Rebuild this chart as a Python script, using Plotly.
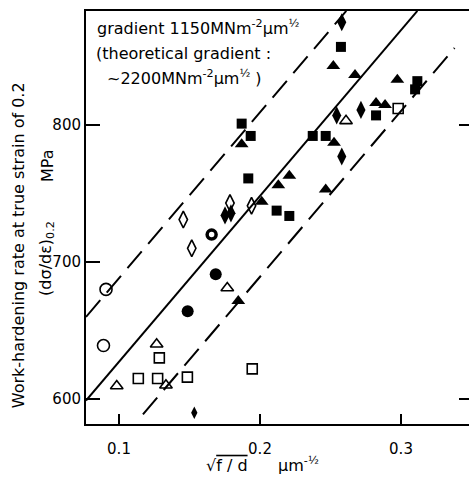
import plotly.graph_objects as go

# ---- data ----
open_circle_x = [0.0908, 0.0890]
open_circle_y = [680, 639]
ring_x = [0.1657]
ring_y = [720]
filled_circle_x = [0.1686, 0.1487]
filled_circle_y = [691, 664]
open_tri_x = [0.1768, 0.1267, 0.0984, 0.1333, 0.2610]
open_tri_y = [681, 640, 609.5, 610, 803]
open_sq_x = [0.1286, 0.1137, 0.1274, 0.1485, 0.1945, 0.2980]
open_sq_y = [630, 615, 615, 616, 622, 812]
open_dia_x = [0.1456, 0.1516, 0.1787, 0.1940]
open_dia_y = [731, 710, 743, 741]
filled_dia_x = [0.2580, 0.2544, 0.2716, 0.2580, 0.1752, 0.1794]
filled_dia_y = [875, 807, 811, 777, 734, 735.5]
small_dia_x = [0.1534]
small_dia_y = [590]
filled_sq_x = [0.2574, 0.1870, 0.1934, 0.1917, 0.2374, 0.2466, 0.2118, 0.2208, 0.2823, 0.3116, 0.3100]
filled_sq_y = [857, 801, 792, 761, 792, 792, 737.5, 733.6, 807, 832, 826]
filled_tri_x = [0.2520, 0.2674, 0.2974, 0.1870, 0.2525, 0.2130, 0.2208, 0.2466, 0.2012, 0.1846, 0.2823, 0.2887]
filled_tri_y = [843, 836.5, 833, 786, 787, 756, 763, 753, 744, 671.5, 816, 814.6]

# fitted band: slope, value at x=0.2, offsets and x-extents
gradient = 1210.0
value_at_02 = 748.2
band_offsets = [0.0, 61.0, -59.0]
band_x_start = [0.0766, 0.0766, 0.1170]
band_x_end = [0.3116, 0.2612, 0.3380]
band_dash = ["solid", "22px,10px", "22px,10px"]

x_ticks = [0.1, 0.2, 0.3]
x_tick_text = ["0.1", "0.2", "0.3"]
y_ticks = [600, 700, 800]
y_tick_text = ["600", "700", "800"]
x_range = [0.0766, 0.34823]
y_range = [581.75, 883.2]

FONT = "DejaVu Sans"
fig = go.Figure()

for off, xs, xe, dash in zip(band_offsets, band_x_start, band_x_end, band_dash):
    ys = value_at_02 + off + gradient * (xs - 0.2)
    ye = value_at_02 + off + gradient * (xe - 0.2)
    fig.add_trace(go.Scatter(x=[xs, xe], y=[ys, ye], mode="lines",
                             line=dict(color="black", width=2, dash=dash),
                             showlegend=False, hoverinfo="skip"))

def pts(x, y, symbol, size, lw=1.6):
    fig.add_trace(go.Scatter(x=x, y=y, mode="markers", showlegend=False,
                             marker=dict(symbol=symbol, size=size, color="black",
                                         line=dict(color="black", width=lw))))

pts(open_circle_x, open_circle_y, "circle-open", 12)
pts(ring_x, ring_y, "circle-open", 9, 3.5)
pts(filled_circle_x, filled_circle_y, "circle", 12, 0)
pts(open_tri_x, open_tri_y, "triangle-up-open", 11)
pts(open_sq_x, open_sq_y, "square-open", 10)
pts(open_dia_x, open_dia_y, "diamond-tall-open", 12)
pts(filled_dia_x, filled_dia_y, "diamond-tall", 13, 0)
pts(small_dia_x, small_dia_y, "diamond-tall", 9, 0)
pts(filled_sq_x, filled_sq_y, "square", 10, 0)
pts(filled_tri_x, filled_tri_y, "triangle-up", 12, 0)

# right-side ticks
fig.add_trace(go.Scatter(x=[None], y=[None], yaxis="y2", showlegend=False))

fig.update_layout(
    width=470, height=481,
    margin=dict(l=86, r=1, t=11, b=57),
    paper_bgcolor="white", plot_bgcolor="white",
    font=dict(family=FONT, size=15, color="black"),
    xaxis=dict(range=x_range, tickvals=x_ticks, ticktext=x_tick_text,
               ticks="inside", ticklen=10, tickwidth=2, tickcolor="black",
               ticklabelstandoff=10,
               showline=True, linecolor="black", linewidth=2, mirror=True,
               showgrid=False, zeroline=False, tickfont=dict(size=15)),
    yaxis=dict(range=y_range, tickvals=y_ticks, ticktext=y_tick_text,
               ticks="inside", ticklen=14, tickwidth=2, tickcolor="black",
               showline=True, linecolor="black", linewidth=2,
               showgrid=False, zeroline=False, tickfont=dict(size=15)),
    yaxis2=dict(range=y_range, overlaying="y", side="right", tickvals=[600, 800],
                ticks="inside", ticklen=10, tickwidth=2, tickcolor="black",
                showticklabels=False, showline=False, showgrid=False, zeroline=False),
)

ann = [
    dict(text="gradient 1150MNm<sup>-2</sup>μm<sup>½</sup>", x=0.0235, y=0.959, xanchor="left"),
    dict(text="(theoretical gradient :", x=0.0210, y=0.898, xanchor="left"),
    dict(text="~2200MNm<sup>-2</sup>μm<sup>½</sup> )", x=0.0500, y=0.840, xanchor="left"),
]
for a in ann:
    fig.add_annotation(xref="paper", yref="paper", yanchor="middle", showarrow=False,
                       font=dict(size=16, family=FONT), **a)

fig.add_annotation(xref="paper", yref="paper", x=-0.1775, y=0.433, textangle=-90,
                   text="Work-hardening rate at true strain of 0.2", showarrow=False,
                   font=dict(size=16, family=FONT), xanchor="center", yanchor="middle")
fig.add_annotation(xref="paper", yref="paper", x=-0.102, y=0.402, textangle=-90,
                   text="(dσ/dε)<sub>0.2</sub>", showarrow=False,
                   font=dict(size=16, family=FONT), xanchor="center", yanchor="middle")
fig.add_annotation(xref="paper", yref="paper", x=-0.102, y=0.627, textangle=-90,
                   text="MPa", showarrow=False,
                   font=dict(size=16, family=FONT), xanchor="center", yanchor="middle")
fig.add_annotation(xref="paper", yref="paper", x=0.462, y=-0.099,
                   text="√<span style='text-decoration:overline'>f / d</span>      μm<sup>-½</sup>",
                   showarrow=False, font=dict(size=16, family=FONT),
                   xanchor="center", yanchor="middle")

fig.write_html("out.html", config={"responsive": False, "displayModeBar": False},
               post_script="document.body.style.margin='0';document.body.style.padding='0';"
                           "document.body.style.overflow='hidden';")
